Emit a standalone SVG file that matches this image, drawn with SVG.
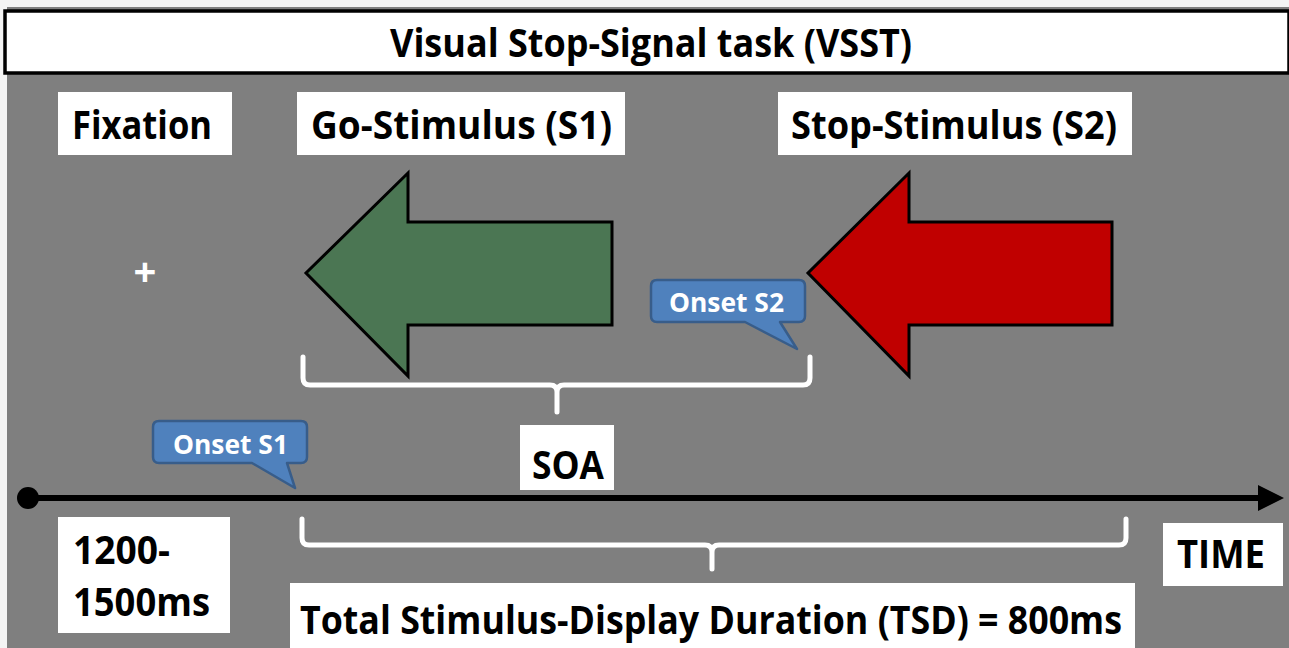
<svg xmlns="http://www.w3.org/2000/svg" width="1289" height="648" viewBox="0 0 1289 648">
<style>
.box{fill:#ffffff}
.lbl{font-family:"Open Sans","Liberation Sans",sans-serif;font-weight:700;fill:#000000;font-size:39px}
.on{font-family:"Open Sans","Liberation Sans",sans-serif;font-weight:700;fill:#ffffff;font-size:27px}
.call{fill:#4f81bd;stroke:#385d8a;stroke-width:2.5;stroke-linejoin:round}
.brace{fill:none;stroke:#ffffff;stroke-width:5;stroke-linecap:round;stroke-linejoin:round}
.arrow{stroke:#000000;stroke-width:3;stroke-linejoin:miter}
</style>
<rect x="0" y="0" width="1289" height="648" fill="#f4f4f4"/>
<rect x="7" y="7" width="1282" height="641" fill="#7f7f7f"/>
<g id="title">
<rect x="5" y="11" width="1284" height="62" fill="#ffffff" stroke="#000000" stroke-width="3.5"/>
<text class="lbl" x="651" y="57" text-anchor="middle" textLength="522" lengthAdjust="spacingAndGlyphs">Visual Stop-Signal task (VSST)</text>
</g>
<g id="fixation">
<rect class="box" x="58" y="92" width="174" height="63"/>
<text class="lbl" x="72" y="139" textLength="140" lengthAdjust="spacingAndGlyphs">Fixation</text>
<text x="145" y="286" text-anchor="middle" font-family="Open Sans, Liberation Sans, sans-serif" font-weight="700" font-size="40" fill="#ffffff">+</text>
</g>
<g id="go-stimulus">
<rect class="box" x="297" y="92" width="328" height="63"/>
<text class="lbl" x="311" y="139" textLength="301" lengthAdjust="spacingAndGlyphs">Go-Stimulus (S1)</text>
<polygon class="arrow" fill="#4b7653" points="612,222 408,222 408,173 306,273 408,376 408,325 612,325"/>
</g>
<g id="stop-stimulus">
<rect class="box" x="778" y="92" width="354" height="63"/>
<text class="lbl" x="791" y="139" textLength="326" lengthAdjust="spacingAndGlyphs">Stop-Stimulus (S2)</text>
<polygon class="arrow" fill="#c00000" points="1112,222 909,222 909,173 808,273 909,376 909,325 1112,325"/>
</g>
<g id="onset-s2">
<path class="call" d="M657,280 H799 Q805,280 805,286 V316 Q805,322 799,322 H780 L797,349 L745,322 H657 Q651,322 651,316 V286 Q651,280 657,280 Z"/>
<text class="on" x="669" y="312" textLength="115" lengthAdjust="spacingAndGlyphs">Onset S2</text>
</g>
<g id="onset-s1">
<path class="call" d="M159,421 H301 Q307,421 307,427 V457 Q307,463 301,463 H287 L295,488 L252,463 H159 Q153,463 153,457 V427 Q153,421 159,421 Z"/>
<text class="on" x="173" y="454" textLength="115" lengthAdjust="spacingAndGlyphs">Onset S1</text>
</g>
<g id="soa">
<rect class="box" x="520" y="425" width="94" height="65"/>
<text class="lbl" x="532" y="479" textLength="72" lengthAdjust="spacingAndGlyphs">SOA</text>
</g>
<g id="interval">
<rect class="box" x="58" y="517" width="172" height="116"/>
<text class="lbl" x="73" y="564" textLength="97" lengthAdjust="spacingAndGlyphs">1200-</text>
<text class="lbl" x="73" y="616" textLength="137" lengthAdjust="spacingAndGlyphs">1500ms</text>
</g>
<g id="time">
<rect class="box" x="1163" y="523" width="120" height="63"/>
<text class="lbl" x="1177" y="568" textLength="88" lengthAdjust="spacingAndGlyphs">TIME</text>
</g>
<g id="tsd">
<rect class="box" x="290" y="583" width="845" height="70"/>
<text class="lbl" x="300" y="634" textLength="822" lengthAdjust="spacingAndGlyphs">Total Stimulus-Display Duration (TSD) = 800ms</text>
</g>
<g id="connectors">
<line x1="28" y1="498" x2="1262" y2="498" stroke="#000000" stroke-width="6"/>
<circle cx="28" cy="498" r="11" fill="#000000"/>
<polygon points="1258,485 1284,498 1258,511" fill="#000000"/>
<path class="brace" d="M303,357 V378 Q303,385 310,385 H550 Q557,385 557,392 V412 M557,392 Q557,385 564,385 H803 Q810,385 810,378 V357"/>
<path class="brace" d="M302,519 V538 Q302,545 309,545 H705 Q712,545 712,552 V569 M712,552 Q712,545 719,545 H1119 Q1126,545 1126,538 V519"/>
</g>
</svg>
